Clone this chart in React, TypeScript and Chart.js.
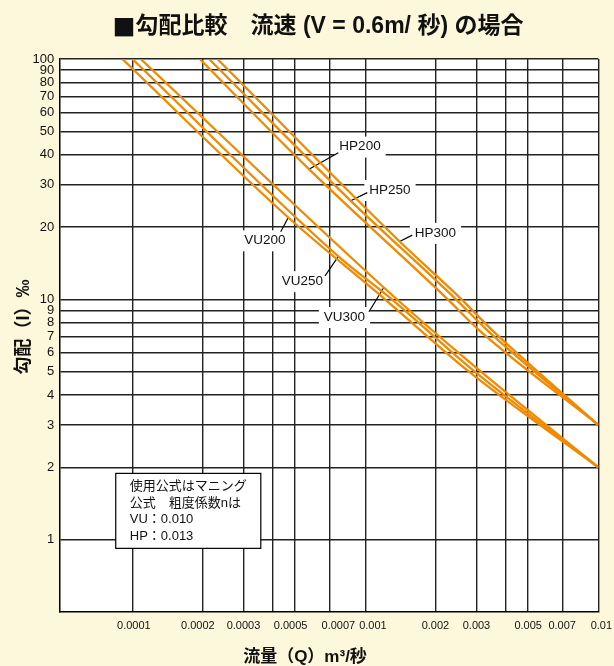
import React, { useEffect, useRef } from 'react';
import { Chart, registerables } from 'chart.js';

Chart.register(...registerables);

const TITLE_MARK = '■';
const TITLE = '勾配比較　流速 (V = 0.6m/ 秒) の場合';
const X_TITLE = '流量（Q）m³/秒';
const Y_TITLE = '勾配（I）‰';

const X_GRID = [0.0001, 0.0002, 0.0003, 0.0004, 0.0005, 0.0007, 0.001, 0.002, 0.003, 0.004, 0.005, 0.007, 0.01];
const X_LABELS = [' 0.0001', '0.0002   ', '0.0003', '', '0.0005   ', '      0.0007', '     0.001', '0.002', '0.003', '', '0.005', '0.007', '  0.01'];
const Y_TICKS = [1, 2, 3, 4, 5, 6, 7, 8, 9, 10, 20, 30, 40, 50, 60, 70, 80, 90, 100];

const VU200_Q = [0.0000906, 0.000467, 0.001215, 0.002786, 0.01];
const VU200_I = [100, 21.9, 10, 5.0, 2.0];
const VU250_Q = [0.0001, 0.000766, 0.0013, 0.002786, 0.01];
const VU250_I = [100, 15.1, 10, 5.24, 2.0];
const VU300_Q = [0.0001086, 0.0012, 0.002786, 0.01];
const VU300_I = [100, 11.2, 5.5, 2.0];
const HP200_Q = [0.0001947, 0.000573, 0.002258, 0.003076, 0.01];
const HP200_I = [100, 34.8, 10, 7.45, 3.0];
const HP250_Q = [0.0002135, 0.000866, 0.002449, 0.00333, 0.01];
const HP250_I = [100, 25.7, 10, 7.45, 3.0];
const HP300_Q = [0.0002317, 0.001404, 0.002587, 0.0035, 0.01];
const HP300_I = [100, 17.4, 10, 7.45, 3.0];

const SERIES_NAMES = ['VU200', 'VU250', 'VU300', 'HP200', 'HP250', 'HP300'];
const SERIES_Q = [VU200_Q, VU250_Q, VU300_Q, HP200_Q, HP250_Q, HP300_Q];
const SERIES_I = [VU200_I, VU250_I, VU300_I, HP200_I, HP250_I, HP300_I];

const LINE_LABELS = ['HP200', 'HP250', 'HP300', 'VU200', 'VU250', 'VU300'];
const LABEL_Q = [9.49e-4, 1.276e-3, 2.0e-3, 3.71e-4, 5.365e-4, 8.14e-4];
const LABEL_I = [43.2, 28.5, 18.9, 17.6, 11.9, 8.44];
const LEADER_FROM_Q = [5.73e-4, 8.66e-4, 1.404e-3, 4.67e-4, 7.66e-4, 1.2e-3];
const LEADER_FROM_I = [34.8, 25.7, 17.4, 21.9, 15.1, 11.2];
const LEADER_TO_Q = [7.66e-4, 1.02e-3, 1.591e-3, 4.335e-4, 6.71e-4, 1.037e-3];
const LEADER_TO_I = [40.7, 27.8, 18.5, 19.1, 12.5, 8.88];

const NOTE_LINES = ['使用公式はマニング', '公式　粗度係数nは', 'VU：0.010', 'HP：0.013'];
const NOTE_Q = [8.49e-5, 3.56e-4];
const NOTE_I = [1.887, 0.92];

const ORANGE = '#F08A00';
const CREAM = '#FDF8DB';
const LATIN = '"Liberation Sans", Arial, sans-serif';
const MIXED = '"Liberation Sans", "Noto Sans CJK JP", sans-serif';
const CJK = '"Noto Sans CJK JP", sans-serif';

const annotPlugin = {
  id: 'annot',
  beforeDraw(chart: any) {
    const { ctx, chartArea: a } = chart;
    ctx.save();
    ctx.fillStyle = '#ffffff';
    ctx.fillRect(a.left, a.top, a.right - a.left, a.bottom - a.top);
    ctx.restore();
  },
  beforeDatasetsDraw(chart: any) {
    const { ctx } = chart;
    const xs = chart.scales.x;
    const ys = chart.scales.y;
    ctx.save();
    ctx.font = `13.5px ${LATIN}`;
    LINE_LABELS.forEach((t, i) => {
      const cx = xs.getPixelForValue(LABEL_Q[i]);
      const cy = ys.getPixelForValue(LABEL_I[i]);
      const w = ctx.measureText(t).width + 10;
      ctx.fillStyle = '#ffffff';
      ctx.fillRect(cx - w / 2, cy - 10, w, 21);
    });
    ctx.strokeStyle = '#000';
    ctx.lineWidth = 1.2;
    LINE_LABELS.forEach((t, i) => {
      ctx.beginPath();
      ctx.moveTo(xs.getPixelForValue(LEADER_FROM_Q[i]), ys.getPixelForValue(LEADER_FROM_I[i]));
      ctx.lineTo(xs.getPixelForValue(LEADER_TO_Q[i]), ys.getPixelForValue(LEADER_TO_I[i]));
      ctx.stroke();
    });
    ctx.fillStyle = '#111';
    ctx.textAlign = 'center';
    ctx.textBaseline = 'middle';
    LINE_LABELS.forEach((t, i) => {
      ctx.fillText(t, xs.getPixelForValue(LABEL_Q[i]), ys.getPixelForValue(LABEL_I[i]));
    });
    const l = xs.getPixelForValue(NOTE_Q[0]);
    const r = xs.getPixelForValue(NOTE_Q[1]);
    const tp = ys.getPixelForValue(NOTE_I[0]);
    const bt = ys.getPixelForValue(NOTE_I[1]);
    ctx.fillStyle = '#fff';
    ctx.fillRect(l, tp, r - l, bt - tp);
    ctx.strokeStyle = '#000';
    ctx.lineWidth = 1.2;
    ctx.strokeRect(l, tp, r - l, bt - tp);
    ctx.fillStyle = '#111';
    ctx.textAlign = 'left';
    ctx.font = `13px ${MIXED}`;
    NOTE_LINES.forEach((t, i) => {
      ctx.fillText(t, l + 14, tp + 13.5 + i * 16.4);
    });
    ctx.restore();
  },
  afterDraw(chart: any) {
    const { ctx } = chart;
    ctx.save();
    ctx.fillStyle = '#111';
    ctx.textBaseline = 'middle';
    ctx.textAlign = 'left';
    ctx.font = `bold 23px ${CJK}`;
    const wMark = ctx.measureText(TITLE_MARK).width;
    ctx.font = `bold 23px ${MIXED}`;
    const wText = ctx.measureText(TITLE).width;
    const startX = 318 - (wMark + wText) / 2;
    ctx.font = `bold 23px ${CJK}`;
    ctx.fillText(TITLE_MARK, startX, 27);
    ctx.font = `bold 23px ${MIXED}`;
    ctx.fillText(TITLE, startX + wMark, 27);
    ctx.textAlign = 'center';
    ctx.font = `bold 17px ${MIXED}`;
    ctx.fillText(X_TITLE, 305, 657);
    ctx.font = `bold 18px ${MIXED}`;
    ctx.translate(24, 327);
    ctx.rotate(-Math.PI / 2);
    ctx.fillText(Y_TITLE, 0, 0);
    ctx.restore();
  },
};

export default function App() {
  const ref = useRef<HTMLCanvasElement | null>(null);
  useEffect(() => {
    document.body.style.margin = '0';
    document.body.style.background = CREAM;
    const canvas = ref.current;
    if (!canvas) return;
    const datasets = SERIES_NAMES.map((name, k) => ({
      label: name,
      data: SERIES_Q[k].map((q, j) => ({ x: q, y: SERIES_I[k][j] })),
      borderColor: ORANGE,
      backgroundColor: ORANGE,
      borderWidth: 2.3,
      pointRadius: 0,
      showLine: true,
      cubicInterpolationMode: 'monotone' as const,
      clip: 0,
    }));
    const chart = new Chart(canvas, {
      type: 'scatter',
      data: { datasets },
      plugins: [annotPlugin],
      options: {
        animation: false,
        responsive: false,
        layout: { padding: { top: 59, right: 15.7, bottom: 0, left: 0 } },
        plugins: { legend: { display: false }, title: { display: false }, tooltip: { enabled: false } },
        scales: {
          x: {
            type: 'logarithmic',
            min: 0.0000486,
            max: 0.01,
            afterBuildTicks: (s: any) => {
              s.ticks = X_GRID.map((v) => ({ value: v }));
            },
            afterFit: (s: any) => {
              s.height = 54;
              s.paddingLeft = 0;
              s.paddingRight = 0;
            },
            ticks: {
              autoSkip: false,
              maxRotation: 0,
              minRotation: 0,
              padding: 7,
              color: '#111',
              font: { family: LATIN, size: 11 },
              callback: (v: any) => {
                const idx = X_GRID.findIndex((g) => Math.abs(g - Number(v)) / g < 1e-6);
                return idx >= 0 ? X_LABELS[idx] : '';
              },
            },
            grid: { color: '#222', lineWidth: 1.4, drawTicks: false },
            border: { display: true, color: '#000', width: 1.5 },
          },
          y: {
            type: 'logarithmic',
            min: 0.5,
            max: 100,
            afterBuildTicks: (s: any) => {
              s.ticks = Y_TICKS.map((v) => ({ value: v }));
            },
            afterFit: (s: any) => {
              s.width = 59.3;
              s.paddingTop = 0;
              s.paddingBottom = 0;
            },
            ticks: {
              autoSkip: false,
              padding: 5,
              color: '#111',
              font: { family: LATIN, size: 13 },
              callback: (v: any) => String(v),
            },
            grid: { color: '#222', lineWidth: 1.4, drawTicks: false },
            border: { display: true, color: '#000', width: 1.5 },
          },
        },
      },
    });
    return () => chart.destroy();
  }, []);
  return (
    <div style={{ width: 614, height: 666, background: CREAM }}>
      <canvas ref={ref} width={614} height={666} style={{ display: 'block', width: 614, height: 666 }} />
    </div>
  );
}
